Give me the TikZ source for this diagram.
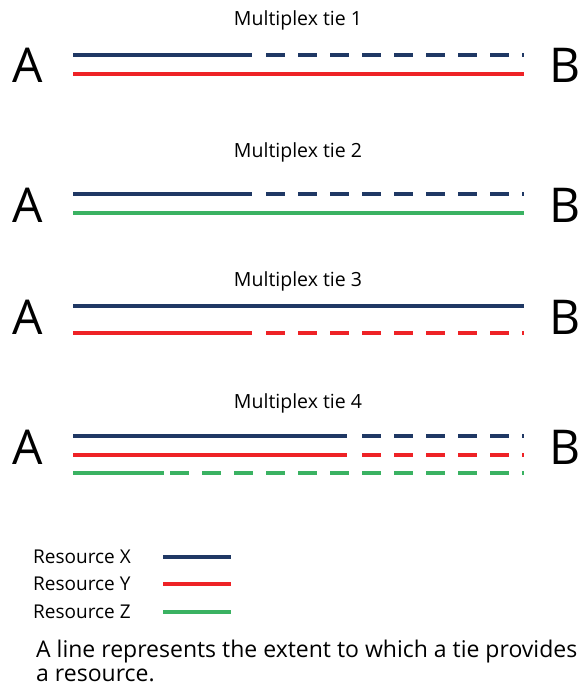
\documentclass[tikz,border=0pt]{standalone}
\usepackage{fontspec}
\setmainfont{Open Sans}
\usepackage{xcolor}
\definecolor{resX}{RGB}{31,56,100}
\definecolor{resY}{RGB}{238,34,38}
\definecolor{resZ}{RGB}{58,178,98}

\begin{document}
\begin{tikzpicture}[x=1pt,y=-1pt,
    res/.style={line width=3.5pt},
    gapped/.style={res, dash pattern=on 19pt off 13pt},
    actor/.style={font=\fontsize{48}{48}\selectfont, inner sep=0pt},
    tietitle/.style={font=\fontsize{19.5}{21}\selectfont, inner sep=0pt},
    legendtext/.style={font=\fontsize{19}{20}\selectfont, anchor=west, inner sep=0pt}]
    \useasboundingbox (0,0) rectangle (582,691);

    % Multiplex tie 1
    \node[tietitle] (title1) at (298,20) {Multiplex tie 1};
    \node[actor] (a1) at (28,65) {A};
    \node[actor] (b1) at (565,65) {B};
    \draw[res, resX] (73,55) -- (252,55);
    \draw[gapped, resX] (266,55) -- (524,55);
    \draw[res, resY] (73,74) -- (524,74);

    % Multiplex tie 2
    \node[tietitle] (title2) at (298,152) {Multiplex tie 2};
    \node[actor] (a2) at (28,205) {A};
    \node[actor] (b2) at (565,205) {B};
    \draw[res, resX] (73,194) -- (252,194);
    \draw[gapped, resX] (266,194) -- (524,194);
    \draw[res, resZ] (73,213) -- (524,213);

    % Multiplex tie 3
    \node[tietitle] (title3) at (298,281) {Multiplex tie 3};
    \node[actor] (a3) at (28,317) {A};
    \node[actor] (b3) at (565,317) {B};
    \draw[res, resX] (73,306) -- (524,306);
    \draw[res, resY] (73,333) -- (252,333);
    \draw[gapped, resY] (266,333) -- (524,333);

    % Multiplex tie 4
    \node[tietitle] (title4) at (298,403) {Multiplex tie 4};
    \node[actor] (a4) at (28,447) {A};
    \node[actor] (b4) at (565,447) {B};
    \draw[res, resX] (73,436) -- (347,436);
    \draw[gapped, resX] (362,436) -- (524,436);
    \draw[res, resY] (73,455) -- (347,455);
    \draw[gapped, resY] (362,455) -- (524,455);
    \draw[res, resZ] (73,473) -- (164,473);
    \draw[gapped, resZ] (170,473) -- (524,473);

    % Legend
    \node[legendtext] (legX) at (33,557) {Resource X};
    \node[legendtext] (legY) at (33,584) {Resource Y};
    \node[legendtext] (legZ) at (33,612) {Resource Z};
    \draw[res, resX] (163,557) -- (231,557);
    \draw[res, resY] (163,584) -- (231,584);
    \draw[res, resZ] (163,612) -- (231,612);

    % Note below the legend
    \node[anchor=north west, align=left, inner sep=0pt,
          font=\fontsize{23}{24}\selectfont] (note) at (36,640)
        {A line represents the extent to which a tie provides\\a resource.};
\end{tikzpicture}
\end{document}
